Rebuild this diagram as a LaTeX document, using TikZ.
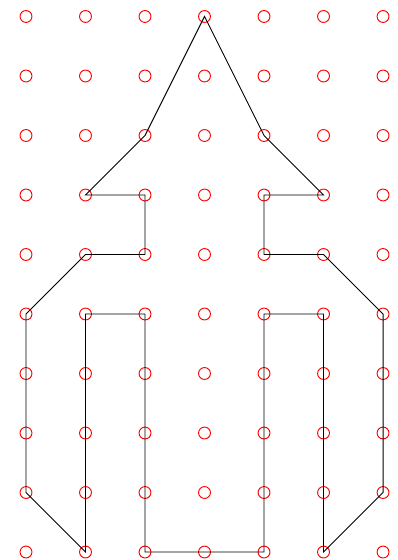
\documentclass[tikz,border=0pt]{standalone}
\usepackage{tikz}
\definecolor{pinred}{RGB}{255, 0, 0}

\begin{document}
\begin{tikzpicture}
                \useasboundingbox (-0.437,-0.134) rectangle (6.235,9.277);

                \tikzstyle{pin}=[circle, draw=pinred, minimum size=0.2cm, inner sep=0pt, line width=0.45pt]
                \foreach \c in {0,...,6}
                    \foreach \r in {0,...,9}
                        \node[pin] (p-\c-\r) at (\c,\r) {};

                \tikzstyle{outline}=[black, line width=0.45pt, line join=miter]

                \draw[outline] (p-3-9.center) -- (p-2-7.center) -- (p-1-6.center) -- (p-2-6.center)
                    -- (p-2-5.center) -- (p-1-5.center) -- (p-0-4.center) -- (p-0-1.center)
                    -- (p-1-0.center) -- (p-1-4.center) -- (p-2-4.center) -- (p-2-0.center)
                    -- (p-4-0.center) -- (p-4-4.center) -- (p-5-4.center) -- (p-5-0.center)
                    -- (p-6-1.center) -- (p-6-4.center) -- (p-5-5.center) -- (p-4-5.center)
                    -- (p-4-6.center) -- (p-5-6.center) -- (p-4-7.center) -- cycle;
            \end{tikzpicture}
\end{document}
